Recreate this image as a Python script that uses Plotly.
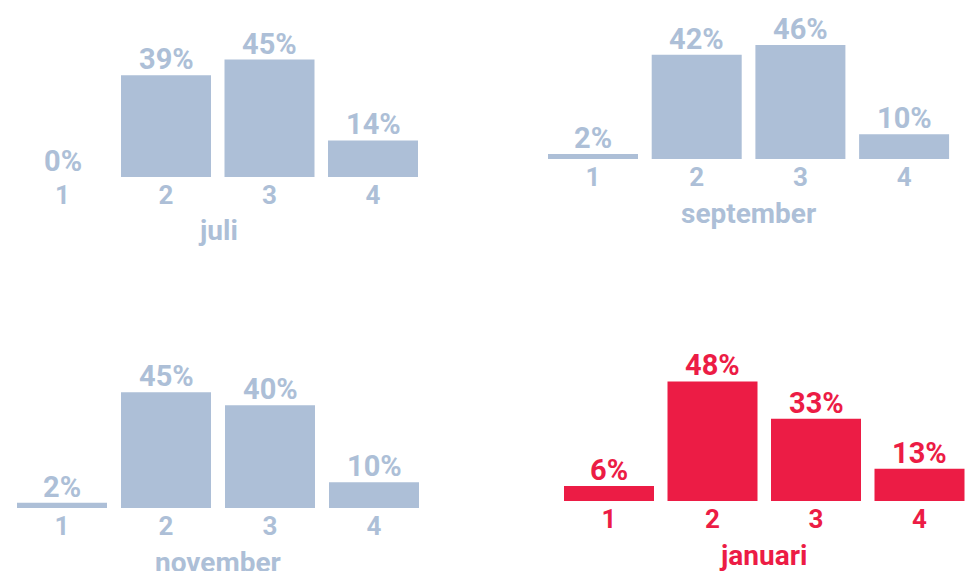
import plotly.graph_objects as go

# ---- data ----
categories = ["1", "2", "3", "4"]
months = ["juli", "september", "november", "januari"]
juli = [0, 39, 45, 14]
september = [2, 42, 46, 10]
november = [2, 45, 40, 10]
januari = [6, 48, 33, 13]
series = [juli, september, november, januari]

# ---- style / layout ----
W, H = 968, 571
BLUE = "#adbfd7"
RED = "#ec1c45"
FONT = "Roboto"
YMAX = 50
BAR_PX = 90
TITLE_OFFSET = 54  # px from baseline to title centre

panels = [
    dict(color=BLUE, c1=62.5, step=103.5, base=177, scale=2.61),
    dict(color=BLUE, c1=593, step=103.7, base=159, scale=2.48),
    dict(color=BLUE, c1=62, step=104, base=508, scale=2.57),
    dict(color=RED, c1=609, step=103.5, base=501, scale=2.49),
]

fig = go.Figure()
layout = dict(
    width=W, height=H, margin=dict(l=0, r=0, t=0, b=0),
    paper_bgcolor="white", plot_bgcolor="white", showlegend=False,
    font=dict(family=FONT),
)
annotations = []

xs = [int(c) for c in categories]
for i, (vals, month, p) in enumerate(zip(series, months, panels)):
    n = "" if i == 0 else str(i + 1)
    L = max(0.0, p["c1"] - p["step"] / 2)
    R = min(W, p["c1"] + 3.5 * p["step"])
    a = 1 - (p["c1"] - L) / p["step"]
    b = 1 + (R - p["c1"]) / p["step"]
    bottom = 1 - p["base"] / H
    top = 1 - (p["base"] - YMAX * p["scale"]) / H
    fig.add_trace(go.Bar(
        x=xs, y=vals, xaxis="x" + n, yaxis="y" + n,
        marker=dict(color=p["color"], line=dict(width=0)),
        width=BAR_PX / p["step"], hoverinfo="skip", cliponaxis=False,
    ))
    for xv, v in zip(xs, vals):
        annotations.append(dict(
            x=xv, y=v, xref="x" + n, yref="y" + n,
            text=f"{v}%", showarrow=False, yanchor="bottom", yshift=-3,
            font=dict(family=FONT, size=29, color=p["color"], weight=700),
        ))
    annotations.append(dict(
        x=0.5, xref=f"x{n} domain", y=1 - (p["base"] + TITLE_OFFSET) / H,
        yref="paper", yanchor="middle", text=month, showarrow=False,
        font=dict(family=FONT, size=28, color=p["color"], weight=700),
    ))
    layout["xaxis" + n] = dict(
        domain=[L / W, R / W], range=[a, b], anchor="y" + n,
        tickmode="array", tickvals=xs, ticktext=categories,
        showgrid=False, zeroline=False, showline=False, ticks="",
        ticklabelstandoff=0,
        tickfont=dict(family=FONT, size=26, color=p["color"], weight=700),
        fixedrange=True,
    )
    layout["yaxis" + n] = dict(
        domain=[bottom, top], range=[0, YMAX], anchor="x" + n,
        visible=False, showgrid=False, zeroline=False, fixedrange=True,
    )

layout["annotations"] = annotations
fig.update_layout(**layout)
fig.write_html("out.html")
